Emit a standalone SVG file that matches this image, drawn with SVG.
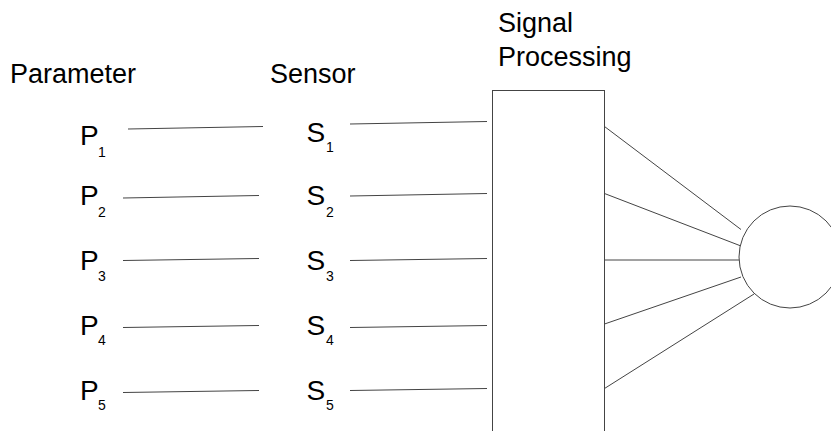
<svg xmlns="http://www.w3.org/2000/svg" width="831" height="431" viewBox="0 0 831 431">
  <style>
    text { font-family: "Liberation Sans", Arial, sans-serif; fill: #000; }
    .head { font-size: 27px; }
    .lbl { font-size: 28px; }
    .sub { font-size: 14px; }
    .wire { stroke: #444; stroke-width: 1; fill: none; }
    .box { stroke: #444; stroke-width: 1; fill: #fff; }
  </style>
  <rect width="831" height="431" fill="#fff"/>

  <!-- column headings -->
  <text class="head" x="10" y="83">Parameter</text>
  <text class="head" x="270" y="83">Sensor</text>
  <text class="head" x="498" y="32">Signal</text>
  <text class="head" x="498" y="66">Processing</text>

  <!-- connectors -->
  <g id="connectors">
    <line class="wire" x1="128" y1="129" x2="263" y2="126.5"/>
    <line class="wire" x1="123" y1="198" x2="259" y2="195.5"/>
    <line class="wire" x1="123" y1="260.5" x2="259" y2="258.5"/>
    <line class="wire" x1="123" y1="327.5" x2="259" y2="325.5"/>
    <line class="wire" x1="123" y1="392.5" x2="259" y2="390.5"/>

    <line class="wire" x1="350" y1="124" x2="487" y2="121.5"/>
    <line class="wire" x1="350" y1="196" x2="487" y2="193.5"/>
    <line class="wire" x1="350" y1="260.5" x2="487" y2="258.5"/>
    <line class="wire" x1="350" y1="327.5" x2="487" y2="325.5"/>
    <line class="wire" x1="350" y1="390.5" x2="487" y2="388.5"/>

    <line class="wire" x1="604.5" y1="126.5" x2="741" y2="229.5"/>
    <line class="wire" x1="604.5" y1="193.5" x2="741" y2="246"/>
    <line class="wire" x1="604.5" y1="260" x2="740" y2="260"/>
    <line class="wire" x1="604.5" y1="324" x2="741" y2="277"/>
    <line class="wire" x1="604.5" y1="388.5" x2="754" y2="294"/>
  </g>

  <!-- parameters -->
  <g id="p1"><text class="lbl" x="80" y="145">P</text><text class="sub" x="98" y="157">1</text></g>
  <g id="p2"><text class="lbl" x="80" y="205">P</text><text class="sub" x="98" y="217">2</text></g>
  <g id="p3"><text class="lbl" x="80" y="270">P</text><text class="sub" x="98" y="281">3</text></g>
  <g id="p4"><text class="lbl" x="80" y="335">P</text><text class="sub" x="98" y="345">4</text></g>
  <g id="p5"><text class="lbl" x="80" y="400">P</text><text class="sub" x="98" y="410">5</text></g>

  <!-- sensors -->
  <g id="s1"><text class="lbl" x="306.5" y="142">S</text><text class="sub" x="326" y="152">1</text></g>
  <g id="s2"><text class="lbl" x="306.5" y="205">S</text><text class="sub" x="326" y="217">2</text></g>
  <g id="s3"><text class="lbl" x="306.5" y="270">S</text><text class="sub" x="326" y="281">3</text></g>
  <g id="s4"><text class="lbl" x="306.5" y="335">S</text><text class="sub" x="326" y="345">4</text></g>
  <g id="s5"><text class="lbl" x="306.5" y="400">S</text><text class="sub" x="326" y="410">5</text></g>

  <!-- signal processing block -->
  <g id="processor"><rect class="box" x="492.5" y="90.5" width="112" height="350"/></g>

  <!-- output node -->
  <g id="output"><circle class="box" cx="790" cy="257" r="51"/></g>
</svg>
